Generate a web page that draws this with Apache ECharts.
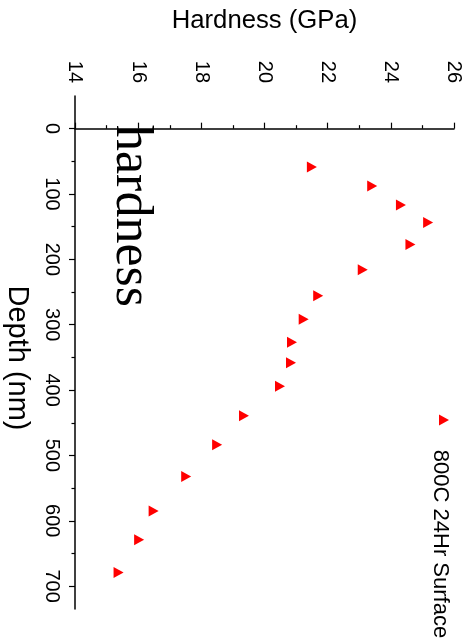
<!DOCTYPE html>
<html>
<head>
<meta charset="utf-8">
<script src="https://cdn.jsdelivr.net/npm/echarts@6/dist/echarts.min.js"></script>
<style>
  html, body { margin: 0; padding: 0; background: #fff; }
  #chart { width: 474px; height: 643px; }
</style>
</head>
<body>
<div id="chart"></div>
<script>
// Nanoindentation profile, 800C 24Hr surface sample
const depthNm = [58.7, 87.8, 116.9, 143.7, 177.4, 216, 255.5, 291.5, 326.7, 358.1,
                 394.1, 439.3, 483.5, 532.2, 585.1, 629.2, 679.3];
const hardnessGPa = [21.50, 23.41, 24.32, 25.18, 24.62, 23.11, 21.70, 21.24, 20.87, 20.84,
                     20.49, 19.35, 18.50, 17.52, 16.49, 16.03, 15.38];
const depthTicks = [0, 100, 200, 300, 400, 500, 600, 700];
const depthMinorTicks = [50, 150, 250, 350, 450, 550, 650];
const seriesName = '800C 24Hr Surface';
const annotation = 'hardness';
const hardnessTitle = 'Hardness (GPa)';
const depthTitle = 'Depth (nm)';

const sans = '"Liberation Sans", Arial, sans-serif';
const triangle = 'path://M0,0 L1,0.5 L0,1 Z';
const red = '#ff0000';
const quarterTurn = -Math.PI / 2;

const points = depthNm.map((d, i) => [hardnessGPa[i], d]);

const chart = echarts.init(document.getElementById('chart'), null, { renderer: 'canvas' });
chart.setOption({
  backgroundColor: '#ffffff',
  animation: false,
  grid: { left: 75, top: 96, width: 379, height: 513, containLabel: false, outerBoundsMode: 'none' },
  xAxis: {
    type: 'value', position: 'top',
    min: 14, max: 26, interval: 2,
    axisLine: { show: true, lineStyle: { color: '#000', width: 1.5 } },
    axisTick: { show: true, inside: false, length: 6, lineStyle: { color: '#000', width: 1.2 } },
    minorTick: { show: true, splitNumber: 2, length: 3.5, lineStyle: { color: '#000', width: 1.2 } },
    axisLabel: { rotate: -90, margin: 13, fontFamily: 'Liberation Sans', fontSize: 20, color: '#000' },
    splitLine: { show: false }
  },
  yAxis: [{
    type: 'value', position: 'left', inverse: true,
    min: -50, max: 735,
    axisLine: { show: true, lineStyle: { color: '#000', width: 1.5 } },
    axisTick: { show: true, inside: false, length: 6, customValues: depthTicks,
                lineStyle: { color: '#000', width: 1.2 } },
    axisLabel: { rotate: -90, margin: 13, customValues: depthTicks,
                 fontFamily: 'Liberation Sans', fontSize: 20, color: '#000' },
    splitLine: { show: false }
  }, {
    type: 'value', position: 'left', inverse: true,
    min: -50, max: 735,
    axisLine: { show: false },
    axisTick: { show: true, inside: false, length: 3.5, customValues: depthMinorTicks,
                lineStyle: { color: '#000', width: 1.2 } },
    axisLabel: { show: false },
    splitLine: { show: false }
  }],
  series: [{
    name: seriesName,
    type: 'scatter',
    yAxisIndex: 0,
    data: points,
    symbol: triangle,
    symbolSize: [10, 11],
    itemStyle: { color: red, opacity: 1 }
  }],
  graphic: [
    {
      type: 'text', x: 264.5, y: 21,
      style: { text: hardnessTitle, font: '25.7px ' + sans,
               fill: '#000', align: 'center', verticalAlign: 'middle' }
    },
    {
      type: 'text', x: 17, y: 358, rotation: quarterTurn,
      style: { text: depthTitle, font: '29px ' + sans,
               fill: '#000', align: 'center', verticalAlign: 'middle' }
    },
    {
      type: 'text', x: 131, y: 216, rotation: quarterTurn,
      style: { text: annotation, font: '52px "Liberation Serif", "Times New Roman", serif',
               fill: '#000', align: 'center', verticalAlign: 'middle' }
    },
    {
      type: 'polygon', x: 444, y: 420,
      shape: { points: [[-5, -5.5], [5, 0], [-5, 5.5]] },
      style: { fill: red }
    },
    {
      type: 'text', x: 440, y: 544, rotation: quarterTurn,
      style: { text: seriesName, font: '22px ' + sans,
               fill: '#000', align: 'center', verticalAlign: 'middle' }
    }
  ]
});
</script>
</body>
</html>
